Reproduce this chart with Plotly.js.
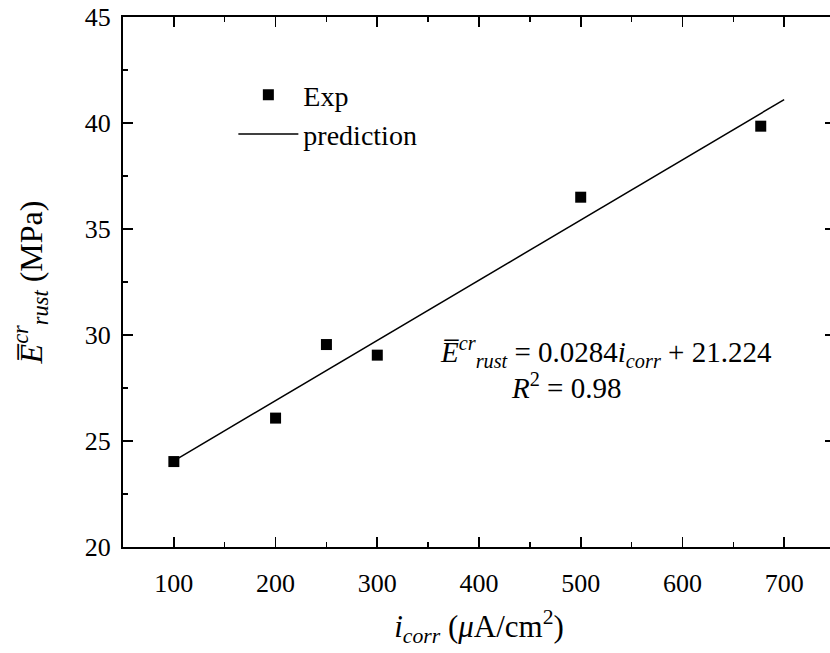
<!DOCTYPE html>
<html>
<head>
<meta charset="utf-8">
<script src="https://cdn.plot.ly/plotly-3.0.1.min.js"></script>
<style>html,body{margin:0;padding:0;overflow:hidden;background:#fff;}#chart{width:835px;height:653px;}</style>
</head>
<body>
<div id="chart"></div>
<script>
const expX = [100, 200, 250, 300, 500, 677];
const expY = [24.03, 26.08, 29.55, 29.05, 36.5, 39.85];
const slope = 0.0284;
const intercept = 21.224;
const predX = [100, 700];
const predY = predX.map(x => slope * x + intercept);
const xTicks = [100, 200, 300, 400, 500, 600, 700];
const yTicks = [20, 25, 30, 35, 40, 45];

const font = 'Times New Roman, Liberation Serif, DejaVu Serif, serif';

const data = [
  {x: expX, y: expY, mode: 'markers', type: 'scatter', name: 'Exp',
   marker: {symbol: 'square', size: 11, color: '#000'}},
  {x: predX, y: predY, mode: 'lines', type: 'scatter', name: 'prediction',
   line: {color: '#000', width: 1.5}}
];

const axisCommon = {
  showline: true, linecolor: '#000', linewidth: 2, mirror: 'ticks',
  ticks: 'inside', ticklen: 10, tickwidth: 1.8, tickcolor: '#000',
  showgrid: false, zeroline: false,
  tickfont: {family: font, size: 26, color: '#000'},
  minor: {ticks: 'inside', ticklen: 5, tickwidth: 1.5, tickcolor: '#000', showgrid: false}
};

const layout = {
  width: 835, height: 653,
  margin: {l: 123, r: 0, t: 17, b: 106},
  paper_bgcolor: '#fff', plot_bgcolor: '#fff',
  font: {family: font, color: '#000'},
  xaxis: Object.assign({}, axisCommon, {
    range: [50, 750], tickvals: xTicks, ticktext: xTicks.map(String),
    ticklabelstandoff: 12,
    minor: Object.assign({}, axisCommon.minor, {dtick: 50, tick0: 50}),
    title: {text: '<i>i</i><sub><i>corr</i></sub> (<i>μ</i>A/cm<sup>2</sup>)', font: {family: font, size: 31, color: '#000'}, standoff: 18}
  }),
  yaxis: Object.assign({}, axisCommon, {
    range: [20, 45], tickvals: yTicks, ticktext: yTicks.map(String),
    ticklabelstandoff: 5,
    minor: Object.assign({}, axisCommon.minor, {dtick: 2.5, tick0: 20}),
    title: {text: '<i>E\u0305</i><sup><i>cr</i></sup><sub><i>rust</i></sub> (MPa)', font: {family: font, size: 32, color: '#000'}, standoff: 33}
  }),
  showlegend: true,
  legend: {x: 0.155, y: 0.90, xanchor: 'left', yanchor: 'top', bgcolor: 'rgba(0,0,0,0)',
    font: {family: font, size: 28, color: '#000'}, itemwidth: 60, tracegroupgap: 0},
  annotations: [
    {xref: 'x', yref: 'y', x: 525, y: 29.2, text: '<i>E\u0305</i><sup><i>cr</i></sup><sub><i>rust</i></sub> = 0.0284<i>i</i><sub><i>corr</i></sub> + 21.224',
     showarrow: false, font: {family: font, size: 29, color: '#000'}},
    {xref: 'x', yref: 'y', x: 486, y: 27.6, text: '<i>R</i><sup>2</sup> = 0.98',
     showarrow: false, font: {family: font, size: 29, color: '#000'}}
  ]
};

Plotly.newPlot('chart', data, layout, {displayModeBar: false, staticPlot: true});
</script>
</body>
</html>
